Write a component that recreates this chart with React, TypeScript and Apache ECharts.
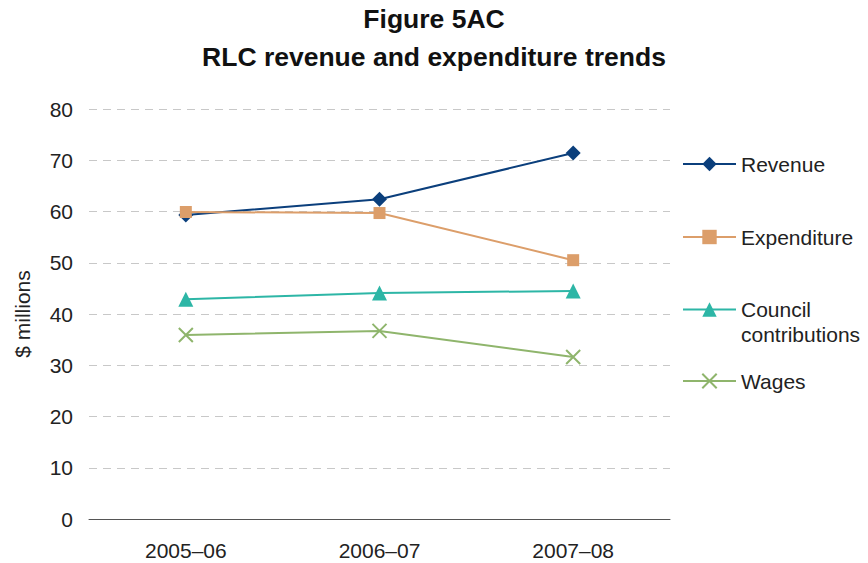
import React, { useEffect, useRef } from "react";
import * as echarts from "echarts";

const categories = ["2005–06", "2006–07", "2007–08"];
const revenue = [59.3, 62.4, 71.4];
const expenditure = [59.9, 59.7, 50.5];
const council = [42.9, 44.1, 44.5];
const wages = [35.9, 36.7, 31.6];
const yTicks = { min: 0, max: 80, interval: 10 };

const FONT = "'Liberation Sans', Arial, sans-serif";
const CROSS = "path://M0,0L10,10M10,0L0,10";

export default function App() {
  const ref = useRef<HTMLDivElement>(null);
  useEffect(() => {
    const chart = echarts.init(ref.current!, null, { renderer: "svg" });
    const mkLegend = (name: string, top: number, lineHeight: number, formatter?: string) => ({
      data: [name],
      left: 682,
      top,
      padding: 0,
      itemWidth: 53,
      itemHeight: 18,
      itemGap: 0,
      selectedMode: false,
      formatter: formatter ? () => formatter : undefined,
      textStyle: { fontFamily: FONT, fontSize: 21, color: "#222", lineHeight },
    });
    chart.setOption({
      animation: false,
      title: {
        text: "Figure 5AC\nRLC revenue and expenditure trends",
        left: "center",
        top: 0,
        padding: 0,
        textStyle: { fontFamily: FONT, fontSize: 26.5, fontWeight: "bold", color: "#111", lineHeight: 38 },
      },
      legend: [
        mkLegend("Revenue", 152, 24),
        mkLegend("Expenditure", 225, 24),
        mkLegend("Council contributions", 272, 25, " \nCouncil\ncontributions"),
        mkLegend("Wages", 369, 24),
      ],
      grid: { left: 89, right: 198, top: 109, bottom: 44 },
      xAxis: {
        type: "category",
        data: categories,
        boundaryGap: true,
        axisTick: { show: false },
        axisLine: { lineStyle: { color: "#555", width: 1 } },
        axisLabel: { fontFamily: FONT, fontSize: 21, color: "#222", margin: 21 },
      },
      yAxis: {
        type: "value",
        min: yTicks.min,
        max: yTicks.max,
        interval: yTicks.interval,
        name: "$ millions",
        nameLocation: "middle",
        nameGap: 56,
        nameTextStyle: { fontFamily: FONT, fontSize: 21, color: "#222" },
        axisLine: { show: false },
        axisTick: { show: false },
        axisLabel: { fontFamily: FONT, fontSize: 21, color: "#222", margin: 16 },
        splitLine: { lineStyle: { color: "#c8c8c8", type: [8, 6], width: 1 } },
      },
      series: [
        {
          name: "Revenue",
          type: "line",
          data: revenue,
          symbol: "diamond",
          symbolSize: 15,
          color: "#0b3f7c",
          lineStyle: { width: 2 },
        },
        {
          name: "Expenditure",
          type: "line",
          data: expenditure,
          symbol: "rect",
          symbolSize: 12,
          color: "#dc9e6a",
          lineStyle: { width: 2 },
        },
        {
          name: "Council contributions",
          type: "line",
          data: council,
          symbol: "triangle",
          symbolSize: 15,
          color: "#2db6a6",
          lineStyle: { width: 2 },
        },
        {
          name: "Wages",
          type: "line",
          data: wages,
          symbol: CROSS,
          symbolSize: 14,
          color: "#8fb56c",
          itemStyle: { color: "#8fb56c", borderColor: "#8fb56c", borderWidth: 2 },
          lineStyle: { width: 2 },
        },
      ],
    });
    return () => chart.dispose();
  }, []);
  return <div ref={ref} style={{ width: 868, height: 563, position: "absolute", left: 0, top: 0 }} />;
}
